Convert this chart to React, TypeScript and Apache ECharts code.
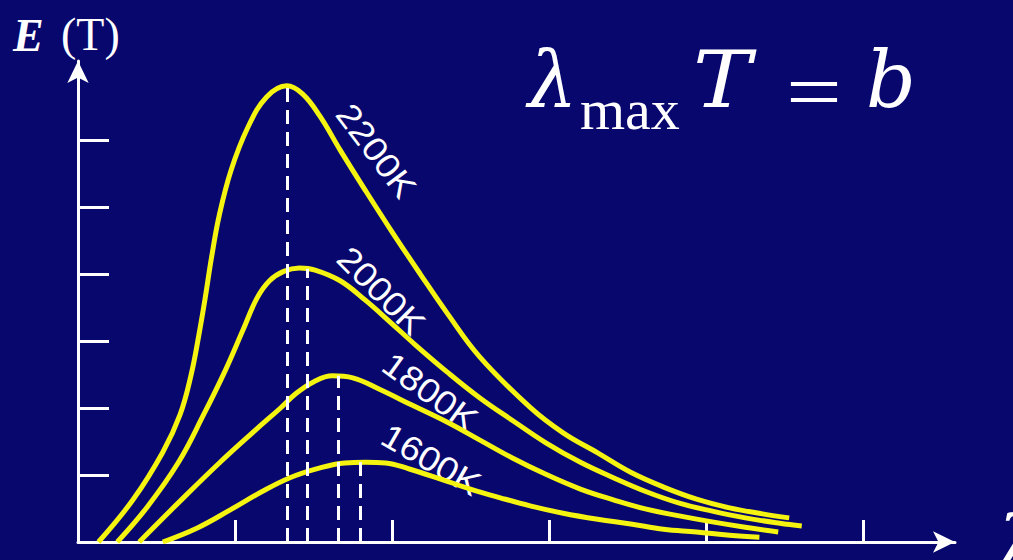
import React, { useEffect, useRef } from "react";
import * as echarts from "echarts";

// Spectral emissive power E(λ, T) of a black body at four temperatures.
// x: wavelength λ (μm), y: E in arbitrary units.
const temperatures = ["2200K", "2000K", "1800K", "1600K"];

const curve2200: [number, number][] = [
  [0.13, 0], [0.35, 0.63], [0.54, 1.34], [0.65, 1.9], [0.72, 2.49], [0.77, 3.09],
  [0.81, 3.64], [0.85, 4.24], [0.9, 4.88], [0.975, 5.55], [1.08, 6.18], [1.2, 6.64],
  [1.33, 6.81], [1.43, 6.69], [1.54, 6.36], [1.67, 5.85], [1.83, 5.25], [2.0, 4.63],
  [2.18, 4.0], [2.35, 3.42], [2.56, 2.76], [2.88, 2.01], [3.09, 1.63], [3.31, 1.33],
  [3.52, 1.04], [3.73, 0.82], [3.94, 0.64], [4.15, 0.51], [4.36, 0.42], [4.53, 0.36],
];

const curve2000: [number, number][] = [
  [0.25, 0], [0.44, 0.52], [0.64, 1.19], [0.8, 1.9], [0.94, 2.57], [1.05, 3.16],
  [1.14, 3.64], [1.22, 3.9], [1.31, 4.04], [1.41, 4.09], [1.51, 4.06], [1.67, 3.9],
  [1.83, 3.61], [1.99, 3.28], [2.15, 2.94], [2.35, 2.54], [2.56, 2.15], [2.77, 1.81],
  [2.98, 1.48], [3.2, 1.19], [3.41, 0.96], [3.62, 0.75], [3.83, 0.58], [4.04, 0.46],
  [4.25, 0.36], [4.47, 0.28], [4.61, 0.24],
];

const curve1800: [number, number][] = [
  [0.39, 0], [0.65, 0.61], [0.9, 1.18], [1.13, 1.67], [1.29, 2.0], [1.39, 2.22],
  [1.5, 2.39], [1.62, 2.48], [1.75, 2.45], [1.92, 2.28], [2.13, 2.04], [2.35, 1.79],
  [2.56, 1.52], [2.77, 1.25], [2.98, 1.01], [3.2, 0.79], [3.41, 0.63], [3.62, 0.49],
  [3.83, 0.39], [4.04, 0.3], [4.25, 0.22], [4.46, 0.15],
];

const curve1600: [number, number][] = [
  [0.54, 0], [0.76, 0.21], [0.97, 0.48], [1.17, 0.75], [1.35, 0.96], [1.53, 1.1],
  [1.7, 1.18], [1.83, 1.19], [1.96, 1.18], [2.11, 1.09], [2.31, 0.94], [2.5, 0.79],
  [2.69, 0.66], [2.88, 0.54], [3.09, 0.43], [3.31, 0.34], [3.52, 0.27], [3.73, 0.19],
  [3.94, 0.15], [4.15, 0.1], [4.34, 0.07],
];

// Wavelength of maximum emission and the peak value for each curve
const peakLambda = [1.33, 1.46, 1.66, 1.8];
const peakE = [6.81, 4.08, 2.48, 1.19];

const lambdaTicks = [1, 2, 3, 4, 5];
const eTicks = [1, 2, 3, 4, 5, 6];

const BG = "#07076e";
const YELLOW = "#f4f410";
const WHITE = "#ffffff";

// Where each temperature tag sits along its curve, and its slope in degrees
const tagPlacement = [
  { x: 376, y: 151, angle: 53 },
  { x: 381, y: 291, angle: 45 },
  { x: 430, y: 392, angle: 36 },
  { x: 431, y: 460, angle: 30 },
];

const SERIF = '"Liberation Serif", "Times New Roman", serif';
const MATH = '"DejaVu Serif", "Liberation Serif", serif';
const SANS = '"Liberation Sans", Arial, sans-serif';

export default function App() {
  const ref = useRef<HTMLDivElement>(null);

  useEffect(() => {
    if (!ref.current) return;
    const chart = echarts.init(ref.current, undefined, { renderer: "svg" });
    const curves = [curve2200, curve2000, curve1800, curve1600];

    const axisLine = {
      show: true,
      symbol: ["none", "arrow"],
      symbolSize: [16, 22],
      lineStyle: { color: WHITE, width: 3 },
    };

    const label = (
      text: string,
      x: number,
      y: number,
      size: number,
      family: string,
      fontStyle: string,
      fontWeight: string = "normal",
      extra: Record<string, unknown> = {}
    ) => ({
      type: "text",
      x,
      y,
      ...extra,
      style: {
        text,
        fill: WHITE,
        fontFamily: family,
        fontSize: size,
        fontStyle,
        fontWeight,
        align: "left",
        verticalAlign: "middle",
      },
    });

    chart.setOption({
      animation: false,
      backgroundColor: BG,
      grid: { left: 78, right: 58, top: 61, bottom: 18 },
      xAxis: {
        type: "value",
        min: 0,
        max: 5.586,
        axisLine,
        axisTick: {
          show: true,
          inside: true,
          length: 22,
          customValues: lambdaTicks,
          lineStyle: { color: WHITE, width: 3 },
        },
        axisLabel: { show: false },
        splitLine: { show: false },
      },
      yAxis: {
        type: "value",
        min: 0,
        max: 7.18,
        axisLine,
        axisTick: {
          show: true,
          inside: true,
          length: 31,
          customValues: eTicks,
          lineStyle: { color: WHITE, width: 3 },
        },
        axisLabel: { show: false },
        splitLine: { show: false },
      },
      series: curves.map((data, i) => ({
        type: "line",
        name: temperatures[i],
        data,
        smooth: 0.4,
        symbol: "none",
        lineStyle: { color: YELLOW, width: 5 },
        markLine: {
          silent: true,
          symbol: ["none", "none"],
          label: { show: false },
          lineStyle: { color: WHITE, width: 3, type: [14, 8] },
          data: [
            [
              { coord: [peakLambda[i], 0] },
              { coord: [peakLambda[i], peakE[i]] },
            ],
          ],
        },
      })),
      graphic: [
        // axis titles
        label("E", 13, 35, 46, SERIF, "italic", "bold"),
        label("(T)", 61, 34, 46, SERIF, "normal"),
        label("λ", 996, 543, 76, MATH, "italic"),
        // Wien's displacement law
        label("λ", 528, 80, 78, MATH, "italic"),
        label("max", 580, 109, 58, SERIF, "normal"),
        label("T", 693, 80, 78, MATH, "italic", "normal", { scaleX: 1.12 }),
        label("=", 786, 92, 78, SERIF, "normal", "normal", { scaleX: 1.27 }),
        label("b", 866, 80, 78, MATH, "italic"),
        ...temperatures.map((t, i) => ({
          type: "text",
          x: tagPlacement[i].x,
          y: tagPlacement[i].y,
          rotation: (-tagPlacement[i].angle * Math.PI) / 180,
          scaleX: 1.1,
          style: {
            text: t,
            fill: WHITE,
            fontFamily: SANS,
            fontSize: 34,
            align: "center",
            verticalAlign: "middle",
          },
        })),
      ],
    });

    return () => chart.dispose();
  }, []);

  return (
    <div
      ref={ref}
      style={{ position: "fixed", left: 0, top: 0, width: 1013, height: 560 }}
    />
  );
}
